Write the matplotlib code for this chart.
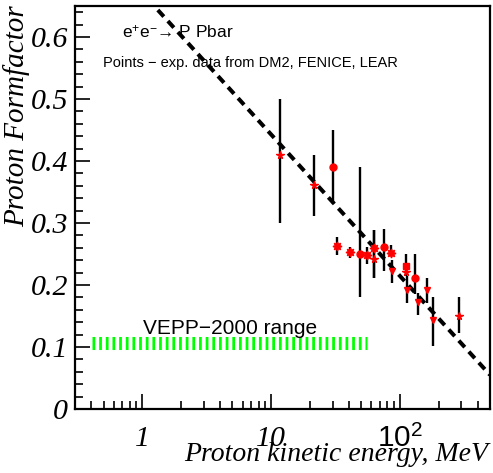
import numpy as np
import matplotlib
matplotlib.use("Agg")
import matplotlib.pyplot as plt
from matplotlib.ticker import FixedLocator, LogLocator, MultipleLocator, FuncFormatter

plt.rcParams['mathtext.fontset'] = 'custom'
plt.rcParams['mathtext.it'] = 'Liberation Serif:italic'
plt.rcParams['mathtext.rm'] = 'Liberation Sans'
plt.rcParams['mathtext.sf'] = 'Liberation Sans'

# data: energy (MeV), formfactor, error bar low / high
star_x = [11.8, 21.7, 63.2, 112, 288]
star_y = [0.410, 0.362, 0.242, 0.221, 0.150]
star_lo = [0.300, 0.312, 0.211, 0.215, 0.122]
star_hi = [0.500, 0.410, 0.289, 0.250, 0.180]

circ_x = [30.3, 48.7, 74.7, 130.6]
circ_y = [0.391, 0.250, 0.261, 0.211]
circ_lo = [0.330, 0.181, 0.222, 0.185]
circ_hi = [0.450, 0.391, 0.291, 0.250]

burst_x = [32.3, 40.7, 55.2, 63.2, 85.7]
burst_y = [0.263, 0.253, 0.248, 0.260, 0.252]
burst_lo = [0.249, 0.243, 0.234, 0.211, 0.246]
burst_hi = [0.277, 0.262, 0.262, 0.289, 0.265]

sq_x = [112]
sq_y = [0.231]

tri_x = [86.7, 113, 137, 162.6, 181]
tri_y = [0.222, 0.192, 0.172, 0.192, 0.143]
tri_lo = [0.203, 0.171, 0.152, 0.171, 0.101]
tri_hi = [0.240, 0.215, 0.187, 0.211, 0.181]

# dashed fit line end points
fit_x = [1.0, 500]
fit_y = [0.671, 0.055]

# VEPP-2000 range
vepp_x = [0.407, 55.5]
vepp_y = [0.106, 0.106]

fig = plt.figure(figsize=(4.93, 4.73), dpi=100)
ax = fig.add_axes([0.1521, 0.1353, 0.8418, 0.852])

ax.plot(vepp_x, vepp_y, color='#00ff00', lw=9.4, ls=(0, (0.21, 0.30)),
        dash_capstyle='butt', solid_capstyle='butt')
ax.plot(fit_x, fit_y, color='black', lw=2.9, ls=(0, (2.2, 1.5)), zorder=3)

def bars(x, lo, hi):
    ax.vlines(x, lo, hi, color='black', lw=1.7, zorder=2)

bars(star_x, star_lo, star_hi)
bars(circ_x, circ_lo, circ_hi)
bars(burst_x, burst_lo, burst_hi)
bars(tri_x, tri_lo, tri_hi)

red = '#ff0000'
ax.plot(star_x, star_y, ls='none', marker='*', ms=5.5, color=red, zorder=4)
ax.plot(circ_x, circ_y, ls='none', marker='o', ms=5.0, color=red, zorder=4)
ax.plot(burst_x, burst_y, ls='none', marker=(8, 1, 0), ms=6.5, color=red, zorder=4)
ax.plot(sq_x, sq_y, ls='none', marker='s', ms=4.5, color=red, zorder=4)
ax.plot(tri_x, tri_y, ls='none', marker='v', ms=5.0, color=red, zorder=4)

ax.set_xscale('log')
ax.set_xlim(0.3, 500)
ax.set_ylim(0, 0.65)

ax.xaxis.set_major_locator(FixedLocator([1, 10, 100]))
ax.xaxis.set_minor_locator(LogLocator(base=10, subs=np.arange(2, 10), numticks=20))
ax.xaxis.set_minor_formatter(FuncFormatter(lambda v, p: ''))
xlabels = {1: '1', 10: '10', 100: r'$\mathit{10}^{\mathit{2}}$'}
ax.xaxis.set_major_formatter(FuncFormatter(lambda v, p: xlabels.get(int(round(v)), '')))
ax.yaxis.set_major_locator(MultipleLocator(0.1))
ax.yaxis.set_minor_locator(MultipleLocator(0.02))
ax.yaxis.set_major_formatter(FuncFormatter(lambda v, p: '0' if abs(v) < 1e-9 else f'{v:.1f}'))

ax.tick_params(which='both', direction='in', top=False, right=False, width=1.2, color='black')
ax.tick_params(which='major', length=11)
ax.tick_params(which='minor', length=5.5)
ax.tick_params(axis='y', pad=5)
ax.tick_params(axis='x', pad=12)
for lab in ax.get_xticklabels() + ax.get_yticklabels():
    lab.set_family('Liberation Serif')
    lab.set_style('italic')
    lab.set_fontsize(21.5)
for sp in ax.spines.values():
    sp.set_linewidth(1.6)

ax.set_xlabel('Proton kinetic energy, MeV', family='Liberation Serif', style='italic',
              fontsize=20, loc='right')
ax.xaxis.set_label_coords(0.995, -0.082)
ax.set_ylabel('Proton Formfactor', family='Liberation Serif', style='italic',
              fontsize=21, loc='top')
ax.yaxis.set_label_coords(-0.108, 1.003)

ax.text(0.113, 0.933, 'e$^{+}$e$^{-}$\u2192 P Pbar', transform=ax.transAxes,
        family='Liberation Sans', fontsize=12.5, va='center', ha='left', zorder=5)
ax.text(0.067, 0.859, 'Points \u2212 exp. data from DM2, FENICE, LEAR', transform=ax.transAxes,
        family='Liberation Sans', fontsize=10.5, va='center', ha='left')
ax.text(0.164, 0.201, 'VEPP\u22122000 range', transform=ax.transAxes,
        family='Liberation Sans', fontsize=15, va='center', ha='left')

fig.savefig('out.png', dpi=100)
